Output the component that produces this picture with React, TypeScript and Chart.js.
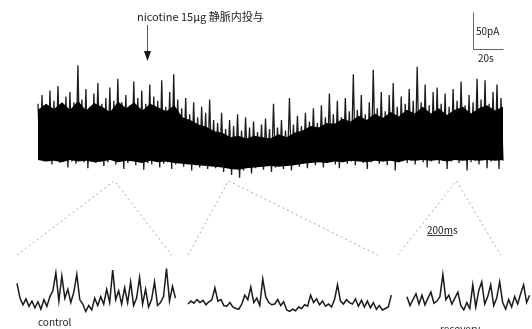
import React, { useEffect, useRef } from "react";
import { Chart, registerables } from "chart.js";
Chart.register(...registerables);

// Main recording (pA): alternating peak / trough samples over the whole 310 s record
const mainUpper = [
  84, 96, 80, 102, 88, 108, 82, 94, 100, 86, 136, 90, 104, 80, 98, 112, 84, 92, 106, 88,
  118, 86, 96, 82, 114, 92, 102, 84, 110, 94, 88, 116, 80, 100, 124, 90, 78, 92, 70, 86,
  66, 80, 72, 90, 62, 58, 72, 50, 62, 54, 70, 48, 66, 52, 60, 46, 56, 64, 50, 84,
  52, 62, 48, 92, 56, 68, 54, 72, 60, 78, 58, 82, 66, 98, 70, 88, 66, 92, 74, 124,
  76, 96, 70, 86, 130, 78, 100, 74, 96, 112, 80, 94, 84, 104, 88, 134, 86, 110, 82, 100,
  106, 84, 98, 80, 104, 88, 114, 82, 96, 86, 118, 90, 116, 84, 100, 110, 92,
];
const mainLower = [
  10, 6, 8, 2, 7, 4, 9, -2, 6, 3, 8, 5, -3, 7, 4, 6, 0, 5, 8, 2,
  6, -4, 4, 7, 1, 5, -5, 4, 2, 6, -2, 3, 5, -4, 2, 4, -1, 2, -6, 1,
  -2, 3, -4, 0, -3, 1, -8, -2, -12, -4, -16, -6, -2, -10, -3, -1, -5, 0, -8, -2,
  1, -4, 0, -6, 2, -1, 3, -3, 4, 1, 5, -2, 4, 6, 2, -3, 5, 3, 6, 1,
  7, 4, -4, 5, 8, 3, 6, 1, 7, -6, 5, 8, 4, 7, 2, 9, 5, -2, 6, 8,
  3, 7, -4, 6, 9, 4, 8, -6, 5, 7, 2, 8, -3, 6, 9, -4, 7,
];
// Dense core of the noise band (pA)
const bandTop = [
  76, 84, 77, 86, 76, 88, 75, 85, 80, 73, 87, 78, 86, 75, 84, 79, 74, 82, 66, 62,
  56, 53, 47, 45, 39, 41, 37, 41, 39, 37, 43, 39, 45, 48, 54, 52, 58, 57, 64, 60,
  68, 62, 71, 65, 73, 67, 76, 71, 80, 71, 78, 69, 76, 80, 71, 78, 82, 75, 80,
];
const bandBottom = [
  8, 6, 7, 5, 8, 6, 7, 5, 6, 8, 5, 7, 6, 4, 7, 5, 6, 4, 3, 2,
  1, 0, -1, -2, -4, -5, -3, -2, -1, 0, -1, 0, 1, 3, 4, 5, 4, 6, 5, 7,
  6, 5, 7, 6, 7, 5, 8, 7, 8, 7, 8, 6, 8, 7, 8, 7, 8, 7, 8,
];

// Expanded 1.2 s windows (pA), sampled every SUB_DT_MS
const controlTrace = [
  32, 12, 3, 11, 1, 8, -1, 7, -3, 10, 1, 14, 22, 46, 8, 42, 12, 24, 6, 20,
  44, 10, 4, -6, 2, -4, 12, 2, 14, 4, 24, 6, 50, 10, 22, 4, 26, 6, 34, 2,
  12, 40, 4, 24, 0, 10, 34, 2, 6, 14, 52, 8, 28, 12,
];
const nicotineTrace = [
  4, 8, 5, 10, 6, 9, 3, 7, 10, 26, 8, 10, 2, 1, 6, 0, -2, -3, 4, 16,
  10, 27, 6, 12, 2, 38, 14, 6, 3, 4, 10, 2, 7, -4, -6, -3, -5, 0, -2, 3,
  1, 16, 6, 11, 3, 8, 1, 4, 0, 10, 30, 8, 4, 10, 6, 4, 11, 1, 9, 0,
  8, -1, 6, -3, 2, -4, -2, 0, 16,
];
const recoveryTrace = [
  14, 2, 10, 18, 4, 16, 3, 12, 20, 5, 8, 14, 44, 10, 16, 4, 12, 20, 2, -4,
  6, -2, 30, 0, 22, 34, 4, 14, 30, 2, 12, 34, 6, -3, 10, 0, 14, 4, 18, 30,
  6, 16,
];

// Labels
const titleLabel = "nicotine 15μg 静脈内投与";
const windowLabels = ["control", "", "recovery"];
const ampBarLabel = "50pA";
const timeBarLabel = "20s";
const subTimeBarLabel = "200ms";

// Record parameters
const MAIN_DURATION_S = 310;
const SUB_DT_MS = 23;
const ampBarPA = 50;
const timeBarS = 20;
const subTimeBarMs = 200;
const injectionTimeS = 73;
const windowSourceS = [51, 127, 279];

// Layout (pixels)
const W = 532;
const H = 329;
const PX_PER_S = 1.5;
const PX_PER_PA = 0.74;
const PX_PER_MS = 0.13;

function xRange(leftPx: number, pxPerUnit: number) {
  const min = -leftPx / pxPerUnit;
  return { min, max: min + W / pxPerUnit };
}
function yRange(zeroPx: number, pxPerUnit: number) {
  return { min: -(H - zeroPx) / pxPerUnit, max: zeroPx / pxPerUnit };
}

export default function App() {
  const ref = useRef<HTMLCanvasElement | null>(null);

  useEffect(() => {
    document.body.style.margin = "0";
    const canvas = ref.current;
    if (!canvas) return;

    const n = mainUpper.length * 2;
    const dt = MAIN_DURATION_S / (n - 1);
    const mainData: { x: number; y: number }[] = [];
    for (let k = 0; k < mainUpper.length; k++) {
      mainData.push({ x: 2 * k * dt, y: mainUpper[k] });
      mainData.push({ x: (2 * k + 1) * dt, y: mainLower[k] });
    }
    const bandDt = MAIN_DURATION_S / (bandTop.length - 1);
    const band = (arr: number[]) => arr.map((v, i) => ({ x: i * bandDt, y: v }));
    const sub = (arr: number[]) => arr.map((v, i) => ({ x: i * SUB_DT_MS, y: v }));

    const subIds = ["xCtrl", "xNic", "xRec"];
    const subTraces = [controlTrace, nicotineTrace, recoveryTrace];
    const windowEnds = [
      [0, 1190],
      [0, 1460],
      [-70, 720],
    ];

    const font = "'Noto Sans CJK JP', 'Noto Sans', sans-serif";

    const overlay = {
      id: "overlay",
      beforeDatasetsDraw(chart: any) {
        const ctx = chart.ctx;
        const xm = chart.scales.xMain;
        const ym = chart.scales.yMain;
        const ys = chart.scales.ySub;
        ctx.save();
        ctx.strokeStyle = "#a8a8a8";
        ctx.lineWidth = 1;
        ctx.setLineDash([2, 3]);
        windowSourceS.forEach((t, i) => {
          const xs = chart.scales[subIds[i]];
          const ax = xm.getPixelForValue(t);
          const ay = ym.getPixelForValue(-20);
          const by = ys.getPixelForValue(70);
          ctx.beginPath();
          ctx.moveTo(xs.getPixelForValue(windowEnds[i][0]), by);
          ctx.lineTo(ax, ay);
          ctx.lineTo(xs.getPixelForValue(windowEnds[i][1]), by);
          ctx.stroke();
        });
        ctx.restore();
      },
      afterDraw(chart: any) {
        const ctx = chart.ctx;
        const xm = chart.scales.xMain;
        const ym = chart.scales.yMain;
        const xc = chart.scales.xRec;
        ctx.save();
        ctx.fillStyle = "#222";
        ctx.strokeStyle = "#333";
        ctx.textBaseline = "middle";
        // title
        ctx.font = `11px ${font}`;
        ctx.fillText(titleLabel, 137, 17);
        // arrow
        const axp = Math.round(xm.getPixelForValue(injectionTimeS)) + 0.5;
        ctx.lineWidth = 1;
        ctx.strokeStyle = "#555";
        ctx.beginPath();
        ctx.moveTo(axp, 25);
        ctx.lineTo(axp, 54);
        ctx.stroke();
        ctx.fillStyle = "#111";
        ctx.beginPath();
        ctx.moveTo(axp - 3.5, 51);
        ctx.lineTo(axp + 3.5, 51);
        ctx.lineTo(axp, 61);
        ctx.closePath();
        ctx.fill();
        // scale bar
        const cx = 473.5;
        const cy = 49.5;
        const barH = ym.getPixelForValue(0) - ym.getPixelForValue(ampBarPA);
        const barW = xm.getPixelForValue(timeBarS) - xm.getPixelForValue(0);
        ctx.strokeStyle = "#666";
        ctx.beginPath();
        ctx.moveTo(cx, cy - barH);
        ctx.lineTo(cx, cy);
        ctx.lineTo(cx + barW, cy);
        ctx.stroke();
        ctx.fillStyle = "#222";
        ctx.font = `10px ${font}`;
        ctx.fillText(ampBarLabel, 476, 31);
        ctx.fillText(timeBarLabel, 478, 58);
        // sub time bar
        const sbW = xc.getPixelForValue(subTimeBarMs) - xc.getPixelForValue(0);
        ctx.fillText(subTimeBarLabel, 427, 230);
        ctx.strokeStyle = "#444";
        ctx.beginPath();
        ctx.moveTo(427, 235.5);
        ctx.lineTo(427 + sbW, 235.5);
        ctx.stroke();
        // window labels
        ctx.fillText(windowLabels[0], 38, 322);
        ctx.fillText(windowLabels[2], 440, 329);
        ctx.restore();
      },
    };

    const traceStyle = {
      borderColor: "#1a1a1a",
      borderWidth: 1.5,
      pointRadius: 0,
      tension: 0,
      fill: false,
    };

    const chart = new Chart(canvas, {
      type: "line",
      data: {
        datasets: [
          {
            data: band(bandBottom),
            xAxisID: "xMain",
            yAxisID: "yMain",
            borderWidth: 0,
            pointRadius: 0,
            tension: 0,
            fill: false,
          },
          {
            data: band(bandTop),
            xAxisID: "xMain",
            yAxisID: "yMain",
            borderWidth: 0,
            pointRadius: 0,
            tension: 0,
            backgroundColor: "#000",
            fill: "-1",
          },
          {
            data: mainData,
            xAxisID: "xMain",
            yAxisID: "yMain",
            borderColor: "#1c1c1c",
            borderWidth: 1.3,
            pointRadius: 0,
            tension: 0,
            fill: false,
          },
          ...subTraces.map((arr, i) => ({
            data: sub(arr),
            xAxisID: subIds[i],
            yAxisID: "ySub",
            ...traceStyle,
          })),
        ],
      },
      options: {
        responsive: false,
        animation: false,
        devicePixelRatio: 1,
        events: [],
        layout: { padding: 0 },
        plugins: { legend: { display: false }, tooltip: { enabled: false } },
        scales: {
          xMain: { type: "linear", axis: "x", display: false, ...xRange(38, PX_PER_S) },
          yMain: { type: "linear", axis: "y", display: false, ...yRange(166, PX_PER_PA) },
          xCtrl: { type: "linear", axis: "x", display: false, ...xRange(17, PX_PER_MS) },
          xNic: { type: "linear", axis: "x", display: false, ...xRange(188, PX_PER_MS) },
          xRec: { type: "linear", axis: "x", display: false, ...xRange(407, PX_PER_MS) },
          ySub: { type: "linear", axis: "y", display: false, ...yRange(307, PX_PER_PA) },
        },
      } as any,
      plugins: [overlay],
    });
    return () => chart.destroy();
  }, []);

  return (
    <div style={{ width: W, height: H, background: "#fff" }}>
      <canvas ref={ref} width={W} height={H} style={{ display: "block" }} />
    </div>
  );
}
